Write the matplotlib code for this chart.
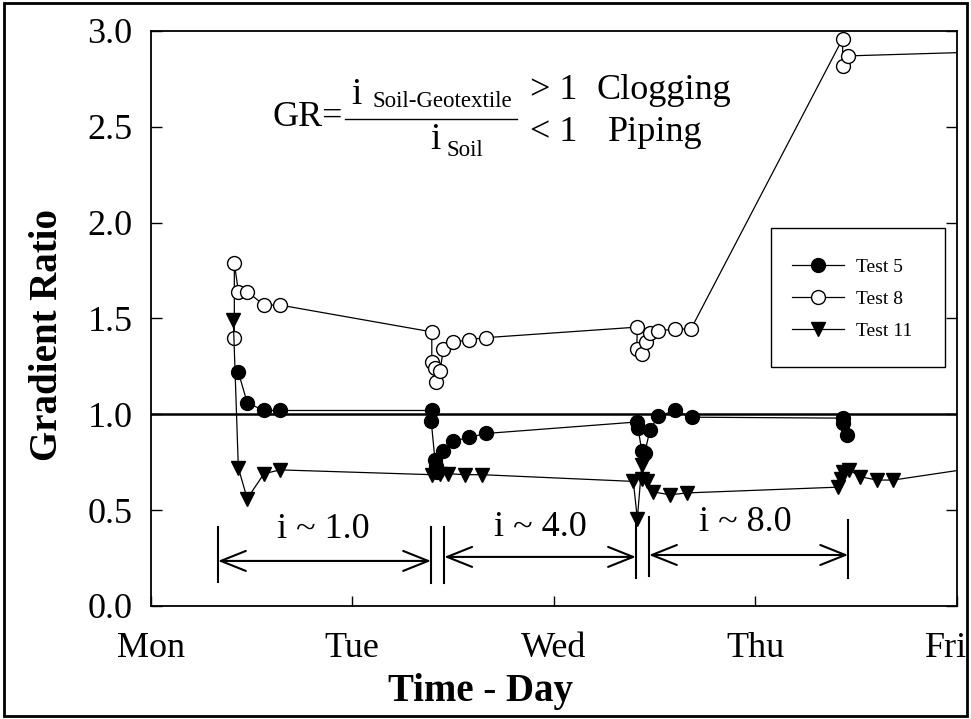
import matplotlib
matplotlib.use("Agg")
import matplotlib.pyplot as plt
from matplotlib.patches import Rectangle
from matplotlib.transforms import ScaledTranslation

plt.rcParams['font.family'] = ['Liberation Serif', 'DejaVu Serif']

# time in days after Monday 00:00
day_ticks = [0, 1, 2, 3, 4]
day_names = ['Mon', 'Tue', 'Wed', 'Thu', 'Fri']
gr_ticks = [0, 0.5, 1.0, 1.5, 2.0, 2.5, 3.0]

test5_x = [0.435, 0.479, 0.562, 0.642, 1.395, 1.392, 1.411, 1.416, 1.421, 1.452, 1.499,
           1.581, 1.664, 2.412, 2.418, 2.437, 2.452, 2.478, 2.519, 2.602, 2.685, 3.437,
           3.437, 3.457]
test5_y = [1.22, 1.06, 1.02, 1.02, 1.02, 0.965, 0.76, 0.73, 0.70, 0.81, 0.86,
           0.88, 0.90, 0.96, 0.93, 0.81, 0.80, 0.92, 0.99, 1.02, 0.985, 0.98,
           0.955, 0.89]

test8_x = [0.415, 0.415, 0.435, 0.479, 0.562, 0.642, 1.395, 1.395, 1.411, 1.416, 1.436,
           1.452, 1.499, 1.581, 1.664, 2.415, 2.412, 2.437, 2.457, 2.478, 2.519, 2.602,
           2.681, 3.434, 3.434, 3.459, 4.10]
test8_y = [1.40, 1.79, 1.64, 1.64, 1.57, 1.57, 1.43, 1.275, 1.24, 1.17, 1.225,
           1.34, 1.375, 1.39, 1.40, 1.455, 1.34, 1.315, 1.375, 1.425, 1.435, 1.445,
           1.445, 2.96, 2.815, 2.87, 2.89]

test11_x = [0.410, 0.435, 0.479, 0.562, 0.642, 1.395, 1.436, 1.477, 1.560, 1.643, 2.395,
            2.415, 2.437, 2.437, 2.461, 2.494, 2.577, 2.663, 3.412, 3.425, 3.437, 3.467,
            3.520, 3.603, 3.685, 4.10]
test11_y = [1.49, 0.72, 0.56, 0.69, 0.71, 0.685, 0.69, 0.69, 0.685, 0.685, 0.65,
            0.455, 0.735, 0.665, 0.65, 0.595, 0.58, 0.59, 0.62, 0.665, 0.70, 0.71,
            0.675, 0.657, 0.657, 0.722]

# gradient stages
stage_labels = ['i ~ 1.0', 'i ~ 4.0', 'i ~ 8.0']
stage_start = [0.334, 1.457, 2.473]
stage_end = [1.391, 2.408, 3.461]
stage_arrow_y = [0.235, 0.256, 0.266]
stage_text_x = [0.855, 1.932, 2.949]
stage_text_y = [0.397, 0.412, 0.438]
bar_x = [0.334, 1.391, 1.457, 2.408, 2.473, 3.461]
bar_lo = [0.125, 0.12, 0.12, 0.146, 0.157, 0.146]
bar_hi = [0.412, 0.412, 0.412, 0.449, 0.464, 0.449]

fig = plt.figure(figsize=(9.71, 7.19), dpi=100)
ax = fig.add_axes([0.1552, 0.1572, 0.8301, 0.7997])

lw = 0.9
ax.plot(test5_x, test5_y, color='black', lw=lw, marker='o', ms=10,
        mfc='black', mec='black', label='Test 5')
ax.plot(test8_x, test8_y, color='black', lw=lw, marker='o', ms=10,
        mfc='white', mec='black', mew=1.0, label='Test 8')
ax.plot(test11_x, test11_y, color='black', lw=lw, marker='v', ms=10,
        mfc='black', mec='black', label='Test 11')

ax.axhline(1.0, color='black', lw=1.8)

for x, lo, hi in zip(bar_x, bar_lo, bar_hi):
    ax.plot([x, x], [lo, hi], color='black', lw=1.5)
for x0, x1, y in zip(stage_start, stage_end, stage_arrow_y):
    ax.annotate('', xy=(x1, y), xytext=(x0, y),
                arrowprops=dict(arrowstyle='<->,head_length=1.0,head_width=0.4',
                                color='black', lw=1.5, shrinkA=0, shrinkB=0,
                                mutation_scale=18))
for t, x, y in zip(stage_labels, stage_text_x, stage_text_y):
    ax.text(x, y, t, ha='center', va='center', fontsize=26)

# gradient ratio definition
fs = 26
ax.text(0.955, 2.551, 'GR=', ha='right', va='center', fontsize=fs)
ax.plot([0.965, 1.819], [2.541, 2.541], color='black', lw=1.0)
ax.text(0.995, 2.666, 'i', ha='left', va='center', fontsize=27)
ax.text(1.10, 2.630, 'Soil-Geotextile', ha='left', va='center', fontsize=16.5)
ax.text(1.385, 2.431, 'i', ha='left', va='center', fontsize=27)
ax.text(1.47, 2.379, 'Soil', ha='left', va='center', fontsize=16.5)
ax.text(1.882, 2.690, '> 1', ha='left', va='center', fontsize=fs)
ax.text(2.21, 2.690, 'Clogging', ha='left', va='center', fontsize=fs)
ax.text(1.882, 2.468, '< 1', ha='left', va='center', fontsize=fs)
ax.text(2.27, 2.468, 'Piping', ha='left', va='center', fontsize=fs)

ax.set_xlim(0, 4)
ax.set_ylim(0, 3)
ax.set_xticks(day_ticks)
ax.set_xticklabels(day_names)
ax.set_yticks(gr_ticks)
ax.set_yticklabels([f'{v:.1f}' for v in gr_ticks])
ax.tick_params(axis='x', direction='in', length=7, width=1, labelsize=26, pad=19)
ax.tick_params(axis='y', direction='in', length=8, width=1, labelsize=26, pad=13,
               right=True)
for s in ax.spines.values():
    s.set_linewidth(1.3)

# keep "Fri" inside the figure frame
fri = ax.get_xticklabels()[-1]
fri.set_horizontalalignment('right')
fri.set_transform(fri.get_transform() + ScaledTranslation(0.11, 0, fig.dpi_scale_trans))

ax.set_xlabel('Time - Day', fontsize=28, fontweight='bold')
ax.xaxis.set_label_coords(0.4086, -0.1496)
ax.xaxis.label.set_va('center')
ax.set_ylabel('Gradient Ratio', fontsize=28, fontweight='bold')
ax.yaxis.set_label_coords(-0.128, 0.4713)
ax.yaxis.label.set_va('center')

leg = ax.legend(loc='center left', bbox_to_anchor=(0.7957, 0.534), fontsize=14,
                frameon=False, borderpad=0, labelspacing=0.75, handlelength=2.67,
                handletextpad=0.62, borderaxespad=0)
for h in leg.legend_handles:
    h.set_markersize(10)
ax.add_patch(Rectangle((0.7692, 0.4157), 0.9855 - 0.7692, 0.6569 - 0.4157,
                       transform=ax.transAxes, fill=False, edgecolor='black',
                       lw=1.0, zorder=5))

fig.patches.append(Rectangle((0.004, 0.004), 0.992, 0.992, transform=fig.transFigure,
                             fill=False, edgecolor='black', lw=2))

fig.savefig('out.png', dpi=100)
